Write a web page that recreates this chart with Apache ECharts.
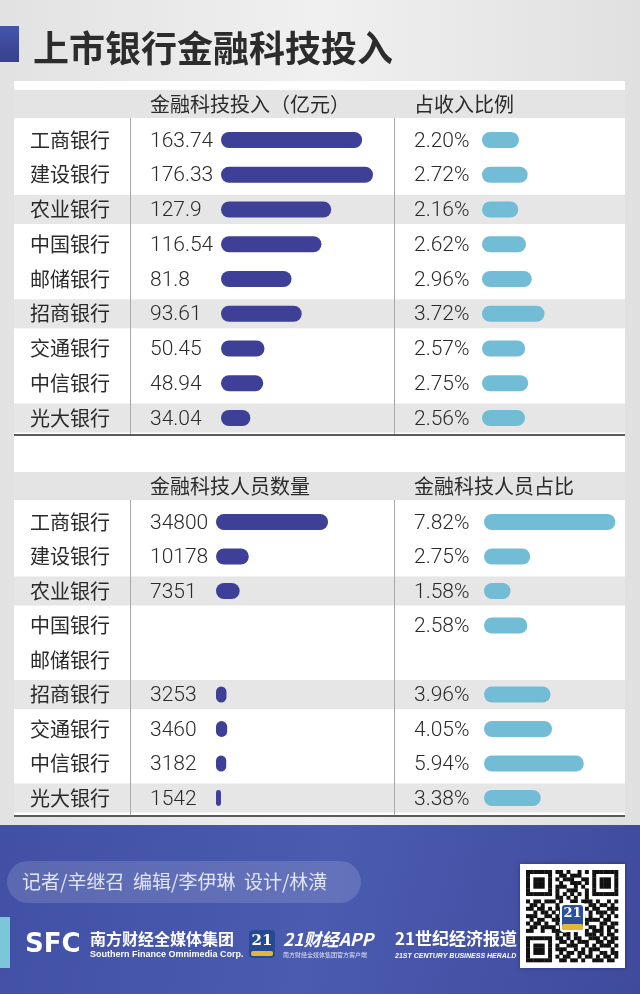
<!DOCTYPE html>
<html><head><meta charset="utf-8">
<script src="https://cdn.jsdelivr.net/npm/echarts@6/dist/echarts.min.js"></script>
<style>html,body{margin:0;padding:0;background:#ececec}#c{width:640px;height:994px}</style>
</head><body><div id="c"></div>
<script>
const titleText = '上市银行金融科技投入';
const banks = ['工商银行','建设银行','农业银行','中国银行','邮储银行','招商银行','交通银行','中信银行','光大银行'];
const investment = [163.74,176.33,127.9,116.54,81.8,93.61,50.45,48.94,34.04];
const investRatio = [2.20,2.72,2.16,2.62,2.96,3.72,2.57,2.75,2.56];
const staffCount = [34800,10178,7351,null,null,3253,3460,3182,1542];
const staffRatio = [7.82,2.75,1.58,2.58,null,3.96,4.05,5.94,3.38];
const stripeRows = [0,0,1,0,0,1,0,0,1];
const headers1 = ['金融科技投入（亿元）','占收入比例'];
const headers2 = ['金融科技人员数量','金融科技人员占比'];
const credits = '记者/辛继召  编辑/李伊琳  设计/林潢';

const CJK = '"Noto Sans CJK SC","Noto Sans",sans-serif';
const NUM = 'Roboto,"Liberation Sans",sans-serif';
const DARK = '#3e3f97', LIGHT = '#73bcd6', TXT = '#2a2a2a';

const chart = echarts.init(document.getElementById('c'), null, {renderer:'canvas'});

const T1 = 122.6, H1 = 312.75, T2 = 504.75, H2 = 310.5;
const grids = [
  {left:14, top:T1, width:611, height:H1},
  {left:221, top:T1, width:172.4, height:H1},
  {left:482, top:T1, width:134.4, height:H1},
  {left:14, top:T2, width:611, height:H2},
  {left:216, top:T2, width:128.8, height:H2},
  {left:484, top:T2, width:134.4, height:H2}
];
const xMax = [1, 200, 8, 1, 40000, 8];
const xAxis = grids.map((g,i)=>({type:'value', gridIndex:i, min:0, max:xMax[i], show:false}));
const yAxis = grids.map((g,i)=>{
  const named = (i===0 || i===3);
  return {type:'category', gridIndex:i, data:banks, inverse:true, z:6,
    axisLine:{show:false}, axisTick:{show:false}, splitLine:{show:false},
    axisLabel: named ? {show:true, inside:true, margin:16, fontSize:20, color:TXT, fontFamily:CJK} : {show:false}};
});

function toData(arr){ return arr.map(v => v==null ? '-' : v); }
function barSeries(idx, arr, color, dx, fmt){
  return {type:'bar', xAxisIndex:idx, yAxisIndex:idx, data:toData(arr), barWidth:16, z:3,
    itemStyle:{color:color, borderRadius:8},
    label:{show:true, position:[dx,9.5], align:'left', verticalAlign:'middle', fontSize:21, fontWeight:300, color:TXT, fontFamily:NUM, formatter:fmt}};
}
function stripeSeries(idx){
  return {type:'bar', xAxisIndex:idx, yAxisIndex:idx, data:stripeRows.map(v=>v?1:'-'), barWidth:29, z:1, silent:true,
    itemStyle:{color:'#e6e6e6'}};
}
const pct = p => Number(p.value).toFixed(2) + '%';
const raw = p => String(p.value);

// QR-like decoration
const qr = [
 '1111111011010010101111111',
 '1000001001101110001000001',
 '1011101010111001101011101',
 '1011101001001110101011101',
 '1011101011100101001011101',
 '1000001010011100101000001',
 '1111111010101010101111111',
 '0000000011010100100000000',
 '1011011101001101110100101',
 '0110100010111010011011010',
 '1101101011010011101100111',
 '0010110101101100010111010',
 '1110011010110111010010101',
 '0101100111001010111101100',
 '1011010010110101100011011',
 '0110111101001110011010110',
 '1100100111010100101110101',
 '0000000010110100111010110',
 '1111111011010110011101011',
 '1000001001101011100110110',
 '1011101010011100101011101',
 '1011101011100101011100010',
 '1011101001011011010011011',
 '1000001010110010110101101',
 '1111111001101101001110110'
];
const qrEls = [];
const qs = 3.68, qx = 526, qy = 870;
qr.forEach((row,r)=>{ for(let c=0;c<row.length;c++){ if(row[c]==='1') qrEls.push({type:'rect', z:4, shape:{x:qx+c*qs, y:qy+r*qs, width:qs+0.3, height:qs+0.3}, style:{fill:'#111'}}); }});

const graphic = [
  {type:'rect', z:0, shape:{x:14,y:81,width:611,height:736}, style:{fill:'#ffffff'}},
  {type:'rect', z:0, shape:{x:0,y:26,width:19,height:36}, style:{fill:new echarts.graphic.LinearGradient(0,0,0,1,[{offset:0,color:'#4556aa'},{offset:1,color:'#36408e'}])}},
  {type:'rect', z:0, shape:{x:14,y:90,width:611,height:28}, style:{fill:'#e4e4e4'}},
  {type:'rect', z:0, shape:{x:14,y:472,width:611,height:28}, style:{fill:'#e4e4e4'}},
  {type:'text', z:5, style:{x:150,y:104,text:headers1[0],fontSize:20,fill:TXT,fontFamily:CJK,verticalAlign:'middle'}},
  {type:'text', z:5, style:{x:414,y:104,text:headers1[1],fontSize:20,fill:TXT,fontFamily:CJK,verticalAlign:'middle'}},
  {type:'text', z:5, style:{x:150,y:486,text:headers2[0],fontSize:20,fill:TXT,fontFamily:CJK,verticalAlign:'middle'}},
  {type:'text', z:5, style:{x:414,y:486,text:headers2[1],fontSize:20,fill:TXT,fontFamily:CJK,verticalAlign:'middle'}},
  {type:'line', z:5, shape:{x1:130.5,y1:118,x2:130.5,y2:434}, style:{stroke:'#a8a8a8',lineWidth:1}},
  {type:'line', z:5, shape:{x1:394.5,y1:118,x2:394.5,y2:434}, style:{stroke:'#a8a8a8',lineWidth:1}},
  {type:'line', z:5, shape:{x1:130.5,y1:500,x2:130.5,y2:816}, style:{stroke:'#a8a8a8',lineWidth:1}},
  {type:'line', z:5, shape:{x1:394.5,y1:500,x2:394.5,y2:816}, style:{stroke:'#a8a8a8',lineWidth:1}},
  {type:'line', z:5, shape:{x1:14,y1:435,x2:625,y2:435}, style:{stroke:'#5a5a5a',lineWidth:2}},
  {type:'line', z:5, shape:{x1:14,y1:816,x2:625,y2:816}, style:{stroke:'#5a5a5a',lineWidth:2}},
  // footer
  {type:'rect', z:0, shape:{x:0,y:825,width:640,height:169}, style:{fill:new echarts.graphic.LinearGradient(0,0,1,1,[{offset:0,color:'#4150a4'},{offset:0.5,color:'#4a5bb0'},{offset:1,color:'#3f4a9c'}])}},
  {type:'rect', z:1, shape:{x:7,y:861,width:354,height:42,r:21}, style:{fill:'rgba(255,255,255,0.14)'}},
  {type:'text', z:2, style:{x:22,y:882,text:credits,fontSize:19,fill:'#e3e6f4',fontFamily:CJK,verticalAlign:'middle'}},
  {type:'rect', z:1, shape:{x:0,y:917,width:10,height:51}, style:{fill:'#7cc6da'}},
  {type:'text', z:2, style:{x:25,y:945,text:'SFC',fontSize:26,fontWeight:'bold',fill:'#ffffff',fontFamily:'"DejaVu Sans",sans-serif',verticalAlign:'middle'}},
  {type:'text', z:2, style:{x:90,y:939,text:'南方财经全媒体集团',fontSize:16,fontWeight:'bold',fill:'#ffffff',fontFamily:CJK,verticalAlign:'middle'}},
  {type:'text', z:2, style:{x:90,y:955,text:'Southern Finance Omnimedia Corp.',fontSize:9,fontWeight:'bold',fill:'#ffffff',fontFamily:'"Liberation Sans",sans-serif',verticalAlign:'middle'}},
  {type:'rect', z:2, shape:{x:249,y:930,width:26,height:28,r:4}, style:{fill:'#254a95'}},
  {type:'rect', z:3, shape:{x:251,y:951,width:22,height:5,r:2}, style:{fill:'#e3b53a'}},
  {type:'text', z:3, style:{x:262,y:941,text:'21',fontSize:15,fontWeight:'bold',fill:'#ffffff',fontFamily:'"DejaVu Serif",serif',align:'center',verticalAlign:'middle'}},
  {type:'text', z:2, style:{x:283,y:939,text:'21财经APP',fontSize:17.5,fontWeight:'bold',fontStyle:'italic',fill:'#ffffff',fontFamily:CJK,verticalAlign:'middle'}},
  {type:'text', z:2, style:{x:283,y:955,text:'南方财经全媒体集团官方客户端',fontSize:6,fill:'#dfe3f5',fontFamily:CJK,verticalAlign:'middle'}},
  {type:'text', z:2, style:{x:395,y:939,text:'21世纪经济报道',fontSize:17,fontWeight:'bold',fill:'#ffffff',fontFamily:CJK,verticalAlign:'middle'}},
  {type:'text', z:2, style:{x:395,y:956,text:'21ST CENTURY BUSINESS HERALD',fontSize:7,fontStyle:'italic',fontWeight:'bold',fill:'#ffffff',fontFamily:'"Liberation Sans Narrow","Liberation Sans",sans-serif',verticalAlign:'middle'}},
  {type:'rect', z:2, shape:{x:520,y:864,width:105,height:104}, style:{fill:'#ffffff', shadowBlur:4, shadowColor:'rgba(0,0,0,0.3)'}},
  {type:'group', children:qrEls},
  {type:'rect', z:6, shape:{x:560,y:903,width:25,height:29,r:3}, style:{fill:'#ffffff'}},
  {type:'rect', z:6, shape:{x:562,y:905,width:21,height:25,r:3}, style:{fill:'#2a4f9e'}},
  {type:'rect', z:6, shape:{x:562,y:924,width:21,height:6,r:2}, style:{fill:'#e3b53a'}},
  {type:'text', z:7, style:{x:572.5,y:914,text:'21',fontSize:13,fontWeight:'bold',fill:'#ffffff',fontFamily:'"DejaVu Serif",serif',align:'center',verticalAlign:'middle'}}
];

chart.setOption({
  animation:false,
  backgroundColor: new echarts.graphic.LinearGradient(0,0,1,0,[{offset:0,color:'#e2e2e2'},{offset:0.5,color:'#f0f0f0'},{offset:1,color:'#e0e0e0'}]),
  title:{text:titleText, left:28, top:25, textStyle:{fontSize:36, fontWeight:'bold', color:'#2c2c2c', fontFamily:CJK}},
  grid:grids, xAxis:xAxis, yAxis:yAxis,
  graphic:graphic,
  series:[
    stripeSeries(0),
    barSeries(1, investment, DARK, -71, raw),
    barSeries(2, investRatio, LIGHT, -68, pct),
    stripeSeries(3),
    barSeries(4, staffCount, DARK, -66, raw),
    barSeries(5, staffRatio, LIGHT, -70, pct)
  ]
});
</script></body></html>
